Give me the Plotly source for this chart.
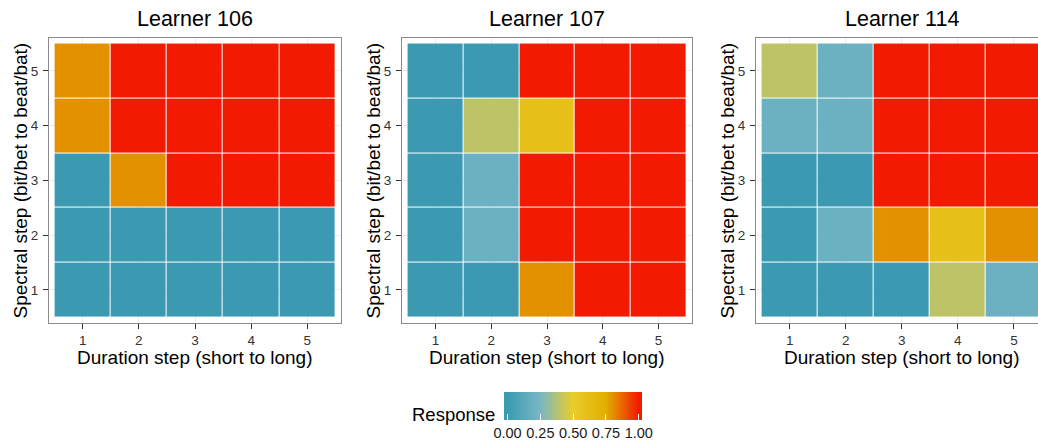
import plotly.graph_objects as go

# Stimulus grid
duration_steps = [1, 2, 3, 4, 5]
spectral_steps = [1, 2, 3, 4, 5]
tick_labels = ["1", "2", "3", "4", "5"]

learners = ["Learner 106", "Learner 107", "Learner 114"]

# Proportion of "long/beat" responses; rows are spectral steps 1..5, columns duration steps 1..5
response_106 = [
    [0.0, 0.0, 0.0, 0.0, 0.0],
    [0.0, 0.0, 0.0, 0.0, 0.0],
    [0.0, 0.8, 1.0, 1.0, 1.0],
    [0.8, 1.0, 1.0, 1.0, 1.0],
    [0.8, 1.0, 1.0, 1.0, 1.0],
]
response_107 = [
    [0.0, 0.0, 0.8, 1.0, 1.0],
    [0.0, 0.2, 1.0, 1.0, 1.0],
    [0.0, 0.2, 1.0, 1.0, 1.0],
    [0.0, 0.4, 0.6, 1.0, 1.0],
    [0.0, 0.0, 1.0, 1.0, 1.0],
]
response_114 = [
    [0.0, 0.0, 0.0, 0.4, 0.2],
    [0.0, 0.2, 0.8, 0.6, 0.8],
    [0.0, 0.0, 1.0, 1.0, 1.0],
    [0.2, 0.2, 1.0, 1.0, 1.0],
    [0.4, 0.2, 1.0, 1.0, 1.0],
]
responses = [response_106, response_107, response_114]

legend_ticks = [0.0, 0.25, 0.5, 0.75, 1.0]
legend_labels = ["0.00", "0.25", "0.50", "0.75", "1.00"]

# Zissou-style palette on the 0..1 response scale
palette_stops = [0.0, 0.25, 0.5, 0.75, 1.0]
palette_colors = ["#3B9AB2", "#78B7C5", "#EBCC2A", "#E1AF00", "#F21A00"]

# The legend bar runs a little past 0 and 1 (end colours held), as ggplot draws it
bar_ext = 0.026
zlo, zhi = -bar_ext, 1 + bar_ext
colorscale = [[0.0, palette_colors[0]]]
for s, c in zip(palette_stops, palette_colors):
    colorscale.append([(s - zlo) / (zhi - zlo), c])
colorscale.append([1.0, palette_colors[-1]])

W, H = 1038, 447
FONT = "Liberation Sans, Arial, Helvetica, sans-serif"


def fx(p):
    return p / W


def fy(p):
    return 1 - p / H


# Panel placement in pixels (left, right) and shared (top, bottom)
panel_x = [(49, 341), (402, 692), (756, 1038)]
panel_top, panel_bottom = 38.5, 326.5
x_ranges = [[0.4, 5.6], [0.4, 5.6], [0.4, 5.43]]

# Legend bar geometry (pixels)
bar_left, bar_len, bar_top, bar_thick = 504, 138.3, 396, 28

fig = go.Figure()
annotations = []
shapes = []

for i, (name, z) in enumerate(zip(learners, responses)):
    n = "" if i == 0 else str(i + 1)
    xa, ya = "x" + n, "y" + n
    fig.add_trace(go.Heatmap(
        x=duration_steps, y=spectral_steps, z=z,
        colorscale=colorscale, zmin=zlo, zmax=zhi,
        xgap=1, ygap=1,
        xaxis=xa, yaxis=ya,
        showscale=(i == 0),
        colorbar=dict(
            orientation="h",
            x=fx(bar_left + bar_len / 2), xanchor="center",
            y=fy(bar_top), yanchor="top",
            lenmode="pixels", len=bar_len,
            thickness=bar_thick,
            xpad=0, ypad=0,
            outlinewidth=0,
            tickvals=legend_ticks, ticktext=legend_labels,
            ticks="inside", ticklen=6, tickcolor="white", tickwidth=1,
            tickfont=dict(family=FONT, size=14.5, color="#1a1a1a"),
        ),
        hovertemplate="Duration %{x}<br>Spectral %{y}<br>Response %{z:.2f}<extra></extra>",
    ))

    left, right = panel_x[i]
    axis_common = dict(
        showline=True, linecolor="#8a8a8a", linewidth=1.2,
        showgrid=True, gridcolor="#ebebeb", gridwidth=1,
        zeroline=False,
        ticks="outside", ticklen=5, tickcolor="#333333", tickwidth=1,
        tickvals=duration_steps, ticktext=tick_labels,
        tickfont=dict(family=FONT, size=13.5, color="#333333"),
        fixedrange=True,
    )
    fig.update_layout({
        "xaxis" + n: dict(
            axis_common,
            domain=[fx(left), fx(right)],
            range=x_ranges[i],
            anchor=ya, mirror=True,
        ),
        "yaxis" + n: dict(
            axis_common,
            domain=[fy(panel_bottom), fy(panel_top)],
            range=[0.4, 5.6],
            anchor=xa, mirror=(i < 2),
            ticklabelstandoff=2,
        ),
    })

    cx = (left + (right if i < 2 else left + 291)) / 2
    annotations.append(dict(
        text=name, x=fx(cx), y=fy(19), xref="paper", yref="paper",
        xanchor="center", yanchor="middle", showarrow=False,
        font=dict(family=FONT, size=21.5, color="black"),
    ))
    annotations.append(dict(
        text="Duration step (short to long)", x=fx(cx), y=fy(361.5),
        xref="paper", yref="paper", xanchor="center", yanchor="middle",
        showarrow=False, font=dict(family=FONT, size=19, color="black"),
    ))
    annotations.append(dict(
        text="Spectral step (bit/bet to beat/bat)", x=fx(left - 29),
        y=fy((panel_top + panel_bottom) / 2), xref="paper", yref="paper",
        xanchor="center", yanchor="middle", textangle=-90,
        showarrow=False, font=dict(family=FONT, size=19, color="black"),
    ))

# White tick marks along the top edge of the legend bar
for v in legend_ticks:
    px = bar_left + (v - zlo) / (zhi - zlo) * bar_len
    shapes.append(dict(
        type="line", xref="paper", yref="paper",
        x0=fx(px), x1=fx(px), y0=fy(bar_top), y1=fy(bar_top + 6),
        line=dict(color="white", width=1),
    ))

annotations.append(dict(
    text="Response", x=fx(497), y=fy(419), xref="paper", yref="paper",
    xanchor="right", yanchor="middle", showarrow=False,
    font=dict(family=FONT, size=18.5, color="black"),
))

fig.update_layout(
    width=W, height=H,
    margin=dict(l=0, r=0, t=0, b=0),
    paper_bgcolor="white", plot_bgcolor="white",
    annotations=annotations,
    shapes=shapes,
    font=dict(family=FONT),
)

fig.write_html("out.html")
